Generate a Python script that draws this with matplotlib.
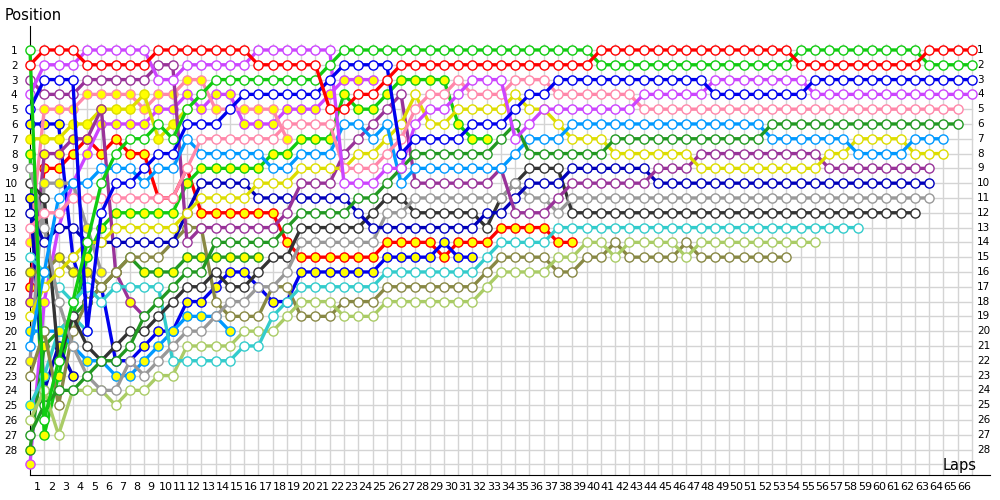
import matplotlib
matplotlib.use("Agg")
import matplotlib.pyplot as plt

# ---- data: position of each car at the end of each lap (lap 0 = grid) ----
red = [2, 1,1,1, 2,2,2,2,2, 1,1,1,1,1,1,1, 2,2,2,2,2, 5,5,4,4,3] + [2]*14 + [1]*14 + [2]*9 + [1]*4
green = [1, 26,22,18,14,10,8,7,7,6,7,5, 4] + [3]*8 + [2] + [1]*18 + [2]*14 + [1]*9 + [2]*4
blue = [5, 3,3,3, 20,12,10,10,9,8,8,6, 6,6, 5] + [4]*6 + [3] + [2]*4 + [8] + [7]*4 + [6]*3 + [5] + [4]*2 + [3]*11 + [4]*7 + [3]*12
violet = [4, 2,2,2, 1,1,1,1,1, 3,3, 2, 2,2,2,2, 1,1,1,1,1,1, 10,10,10, 9, 9, 6, 5,5, 4, 3,3,3, 7, 6] + [5]*7 + [4]*5 + [3]*7 + [4]*12
pink = [13, 12,12,11,11,11,11,11,11,11,11,9] + [7]*6 + [6]*4 + [9]*3 + [8,7,5,4,4,3,4,4,4,3,3,3] + [4]*6 + [5]*23
darkgreen = [27, 25,24,24,23,22,22,21,19,18,17,16, 16] + [14]*5 + [13] + [12]*4 + [11]*2 + [10] + [9] + [8]*6 + [7] + [6] + [8]*6 + [7]*11 + [6]*14
lightblue = [21, 16,11,10,10,9,9,9,10,9,9,7] + [8]*5 + [9]*2 + [8]*3 + [6]*2 + [7] + [6] + [10] + [9]*7 + [8] + [7]*3 + [6]*14 + [7]*6 + [8]*4 + [7]*3
yellow = [19, 17,16,15,14,14,13,13,13,13,13,12] + [11]*4 + [10]*3 + [9]*4 + [8]*2 + [7] + [6] + [4] + [6]*2 + [5]*4 + [4] + [5]*2 + [6] + [7]*3 + [8]*6 + [9]*9 + [8]*2 + [7]*4 + [8]*3
darkpurple = [3, 4,4,4, 3,3,3,3,3, 2,2, 14, 13] + [13]*5 + [12] + [10]*3 + [8,7,6,5,4] + [10]*6 + [9] + [12]*3 + [11] + [10]*6 + [9]*3 + [8]*9 + [9]*8
navy = [12, 14,13,13,14,14,14,14,14,14,14,12] + [10]*4 + [11]*7 + [12] + [13]*8 + [12]*2 + [11] + [10]*3 + [9]*6 + [10]*20
grey = [9, 13,18,21,23,24,24,22,23,22,21,20,20,19,18,18,17,17,16] + [14]*6 + [12]*2 + [11]*7 + [10] + [11]*2 + [12] + [11]*26
black = [10, 11,22,19,21,22,21,20,20,19,18,17,17,16] + [17]*2 + [16] + [15]*2 + [13]*5 + [12] + [11]*2 + [12]*5 + [13] + [11] + [10] + [9]*3 + [12]*25
cyan = [15, 16,17,18,17,18,17] + [17]*3 + [22]*5 + [21]*2 + [19] + [18] + [17]*6 + [16]*7 + [15] + [14]*4 + [13]*22
lightgreen = [26, 24,27,24,24,24,25,24,24,23,23] + [21]*4 + [20]*3 + [19] + [18]*3 + [19]*3 + [18]*7 + [17] + [16]*4 + [15]*2 + [14,14,15,14,14,14,14,15] + [14]*9
olive = [23, 20,25,20,18,17,16,15,15,15,14,13, 13] + [18] + [19]*3 + [17]*2 + [19]*3 + [18]*3 + [17]*7 + [16] + [15]*4 + [16]*2 + [15,15,14,15,15,15,15,14] + [15]*7
red_y = [17, 9,9,8,7,8,7,8,8,11,11,9] + [12]*6 + [14] + [15]*6 + [14]*4 + [15] + [14]*3 + [13]*4 + [14]*2
blue_y = [6, 6,6,15,18,17,22,22,21,20,20,18,18,17] + [16]*2 + [17] + [18]*2 + [16]*6 + [15]*4 + [14] + [15]*2
green_y = [8, 27,23,19,15,13,12,12,12,12,12,10] + [9]*5 + [8]*2 + [7]*3 + [4] + [5]*2 + [4] + [3]*4 + [6] + [7]*2
violet_y = [29, 18,13,10,8,6,6,6,6,5,5,4,5,4,4,6,6,6,5,5,5,4,3,3,3]
pink_y = [14, 5,5,5,4,4,4,4,5,4,4,3,3,5,5,5,5,5,7]
yellow_y = [7, 7,7,6,6,5,5,5,4,7,6,5]
darkgreen_y = [28, 21,20,19,18,17,16,15,16,16,16,15,15,15,15,15,15]
darkpurple_y = [18, 8,8,7,7,5,16,18,19]
lightblue_y = [20, 20,20,21,22,22,23,23,22,21,20,19,19,19,20]
navy_y = [11, 24,21,23]
cyan_y = [25, 23,20,19,20]
grey_y = [22, 10,10,10,13,16]
olive_y = [16, 16,15,16,16,17,16]

series = [red_y, blue_y, green_y, violet_y, pink_y, yellow_y, darkgreen_y,
          darkpurple_y, lightblue_y, navy_y, cyan_y, grey_y, olive_y,
          olive, lightgreen, cyan, black, grey, navy, darkpurple, yellow,
          lightblue, darkgreen, pink, violet, blue, green, red]
edge_colors = ['#ff0000', '#0000ee', '#11cc11', '#cc44ff', '#ff88aa', '#dddd00', '#229922',
               '#993399', '#0099ff', '#0000bb', '#33cccc', '#999999', '#888844',
               '#888844', '#aacc66', '#33cccc', '#333333', '#999999', '#0000bb', '#993399', '#dddd00',
               '#0099ff', '#229922', '#ff88aa', '#cc44ff', '#0000ee', '#11cc11', '#ff0000']
fills = ['#ffff00'] * 13 + ['#ffffff'] * 15

n_laps = 66
n_pos = 28

fig = plt.figure(figsize=(10, 5), dpi=100)
ax = fig.add_axes([0.030, 0.05, 0.96, 0.898])
ax.set_xlim(0, 67.27)
ax.set_ylim(29.72, -0.62)

# grid
for k in range(1, n_laps + 1):
    ax.plot([k, k], [0.6, 29.72], color='#d4d4d4', lw=1.0, zorder=0)
for p in range(1, n_pos + 2):
    ax.plot([0, n_laps], [p, p], color='#d4d4d4', lw=1.0, zorder=0)

for s, ec, fc in zip(series, edge_colors, fills):
    laps = list(range(len(s)))
    ax.plot(laps, s, '-', color=ec, lw=2.4, zorder=2, clip_on=False,
            solid_capstyle='round', solid_joinstyle='round')
    ax.plot(laps, s, 'o', ms=6.6, mfc=fc, mec=ec, mew=1.0, zorder=2, clip_on=False,
            linestyle='none')

for side in ['top', 'right']:
    ax.spines[side].set_visible(False)
ax.spines['left'].set_color('black')
ax.spines['bottom'].set_color('black')
ax.spines['left'].set_zorder(1)

ax.set_yticks(range(1, n_pos + 1))
ax.set_yticklabels([str(p) for p in range(1, n_pos + 1)], fontsize=7.5)
ax.tick_params(axis='y', length=0, pad=9)
ax.set_xticks([k - 0.5 for k in range(1, n_laps + 1)])
ax.set_xticklabels([str(k) for k in range(1, n_laps + 1)], fontsize=8)
ax.tick_params(axis='x', length=0, pad=5)

for p in range(1, n_pos + 1):
    ax.text(66.36, p, str(p), fontsize=7.5, ha='left', va='center')

fig.text(0.005, 0.97, 'Position', fontsize=10.5, ha='left', va='center')
ax.text(63.98, 29.05, 'Laps', fontsize=10.5, ha='left', va='center')

fig.savefig('out.png', dpi=100)
